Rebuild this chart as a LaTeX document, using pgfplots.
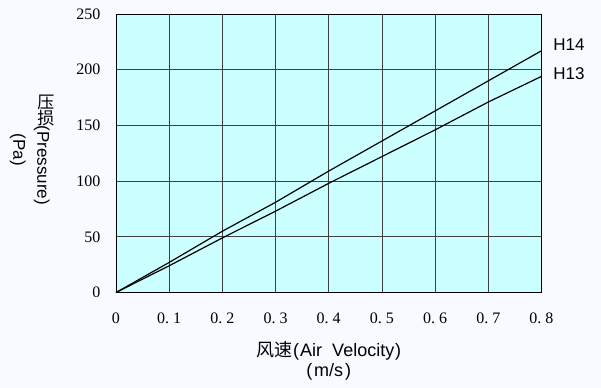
\documentclass[border=0pt]{standalone}
\usepackage{fontspec}
\usepackage{graphicx}
\usepackage{pgfplots}
\pgfplotsset{compat=1.18}
\setmainfont{Liberation Serif}
\newfontfamily\sans{Liberation Sans}
\newfontfamily\cjk{Noto Sans CJK SC}
\definecolor{plotbg}{RGB}{204,255,255}
\definecolor{pagebg}{RGB}{248,250,255}
\newcommand{\dd}[1]{0.\hspace{4bp}#1}
\newcommand{\up}[1]{\rotatebox{90}{\cjk #1}}
\begin{document}
\begin{tikzpicture}
\fill[pagebg] (-116bp,-95.5bp) rectangle (485bp,292.5bp);
\begin{axis}[
  scale only axis,
  width=425.5bp, height=278.5bp,
  xmin=0, xmax=0.8, ymin=0, ymax=250,
  xtick={0,0.1,0.2,0.3,0.4,0.5,0.6,0.7,0.8},
  xticklabels={0,\dd1,\dd2,\dd3,\dd4,\dd5,\dd6,\dd7,\dd8},
  ytick={0,50,100,150,200,250},
  major tick length=0pt,
  grid=major,
  major grid style={black!75, line width=0.8pt},
  axis line style={black, line width=0.9pt},
  axis background/.style={fill=plotbg},
  tick label style={font=\fontsize{16bp}{18bp}\selectfont},
  /pgf/number format/assume math mode=true,
  yticklabel style={xshift=-12bp},
  xticklabel style={yshift=-17bp},
  xlabel={{\cjk 风速}{\sans\hspace{1bp}(\hspace{1bp}Air\ \ Velocity\hspace{1bp})}\\{\sans (\hspace{2bp}m/s\hspace{2bp})}},
  xlabel style={at={(rel axis cs:0.5,0)}, anchor=north, yshift=-45bp, align=center,
    font=\fontsize{18bp}{20bp}\selectfont},
  ylabel={\up{压}\up{损}{\sans (Pressure)}\\{\sans (Pa)}},
  ylabel style={at={(axis description cs:-0.197,0.512)}, anchor=center, rotate=-180, align=center,
    font=\fontsize{17bp}{24bp}\selectfont},
  clip=false,
]
\addplot[black, line width=1.2pt] coordinates {
 (0,0) (0.1,27) (0.2,55) (0.3,81) (0.4,109) (0.5,136) (0.6,163) (0.7,190) (0.8,217)}
 node[pos=1, anchor=west, xshift=8bp, yshift=6bp, font=\sans\fontsize{17bp}{20bp}\selectfont] {H14};
\addplot[black, line width=1.2pt] coordinates {
 (0,0) (0.1,24) (0.2,49) (0.3,73) (0.4,98) (0.5,122) (0.6,146) (0.7,171) (0.8,194)}
 node[pos=1, anchor=west, xshift=8bp, yshift=3bp, font=\sans\fontsize{17bp}{20bp}\selectfont] {H13};
\end{axis}
\pgfresetboundingbox
\path[use as bounding box] (-116bp,-95.5bp) rectangle (485bp,292.5bp);
\end{tikzpicture}
\end{document}
